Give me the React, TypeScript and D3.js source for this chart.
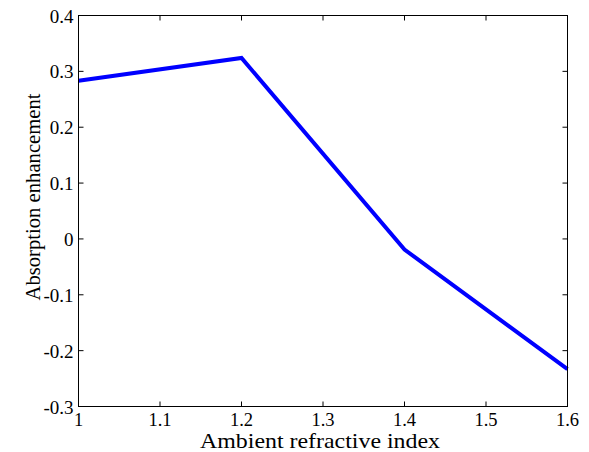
import React from "react";
import * as d3 from "d3";

const xValues = [1, 1.2, 1.4, 1.6];
const yValues = [0.283, 0.324, -0.019, -0.233];
const xTicks = [1, 1.1, 1.2, 1.3, 1.4, 1.5, 1.6];
const yTicks = [-0.3, -0.2, -0.1, 0, 0.1, 0.2, 0.3, 0.4];
const xLabel = "Ambient refractive index";
const yLabel = "Absorption enhancement";

export default function App() {
  const W = 589, H = 452;
  const L = 78.5, R = 567.5, T = 15.5, B = 406.5;
  const x = d3.scaleLinear().domain([1, 1.6]).range([L, R]);
  const y = d3.scaleLinear().domain([-0.3, 0.4]).range([B, T]);
  const pts = xValues.map((v, i) => [v, yValues[i]] as [number, number]);
  const line = d3.line<[number, number]>().x(d => x(d[0])).y(d => y(d[1]));
  const font = "'Liberation Serif', 'Times New Roman', 'DejaVu Serif', serif";
  const tl = 5;
  const fmt = (v: number) => (Math.abs(v) < 1e-9 ? "0" : String(+v.toFixed(1)));
  return (
    <svg width={W} height={H} style={{ position: "absolute", left: 0, top: 0 }}>
      <rect x={0} y={0} width={W} height={H} fill="#fff" />
      <path d={line(pts) || ""} fill="none" stroke="#0000ff" strokeWidth={4} strokeLinejoin="miter" />
      <rect x={L} y={T} width={R - L} height={B - T} fill="none" stroke="#000" strokeWidth={1} />
      {xTicks.map(t => (
        <g key={"x" + t}>
          <line x1={x(t)} x2={x(t)} y1={B} y2={B - tl} stroke="#000" />
          <line x1={x(t)} x2={x(t)} y1={T} y2={T + tl} stroke="#000" />
          <text x={x(t)} y={B + 19} textAnchor="middle" style={{ fontFamily: font, fontSize: 18.5 }}>{fmt(t)}</text>
        </g>
      ))}
      {yTicks.map(t => (
        <g key={"y" + t}>
          <line x1={L} x2={L + tl} y1={y(t)} y2={y(t)} stroke="#000" />
          <line x1={R} x2={R - tl} y1={y(t)} y2={y(t)} stroke="#000" />
          <text x={L - 5} y={y(t) + 7} textAnchor="end" style={{ fontFamily: font, fontSize: 19 }}>{fmt(t)}</text>
        </g>
      ))}
      <text x={320} y={448} textAnchor="middle" textLength={240} lengthAdjust="spacingAndGlyphs" style={{ fontFamily: font, fontSize: 21 }}>{xLabel}</text>
      <text transform={`translate(40,197) rotate(-90)`} textAnchor="middle" textLength={207} lengthAdjust="spacingAndGlyphs" style={{ fontFamily: font, fontSize: 20.5 }}>{yLabel}</text>
    </svg>
  );
}
